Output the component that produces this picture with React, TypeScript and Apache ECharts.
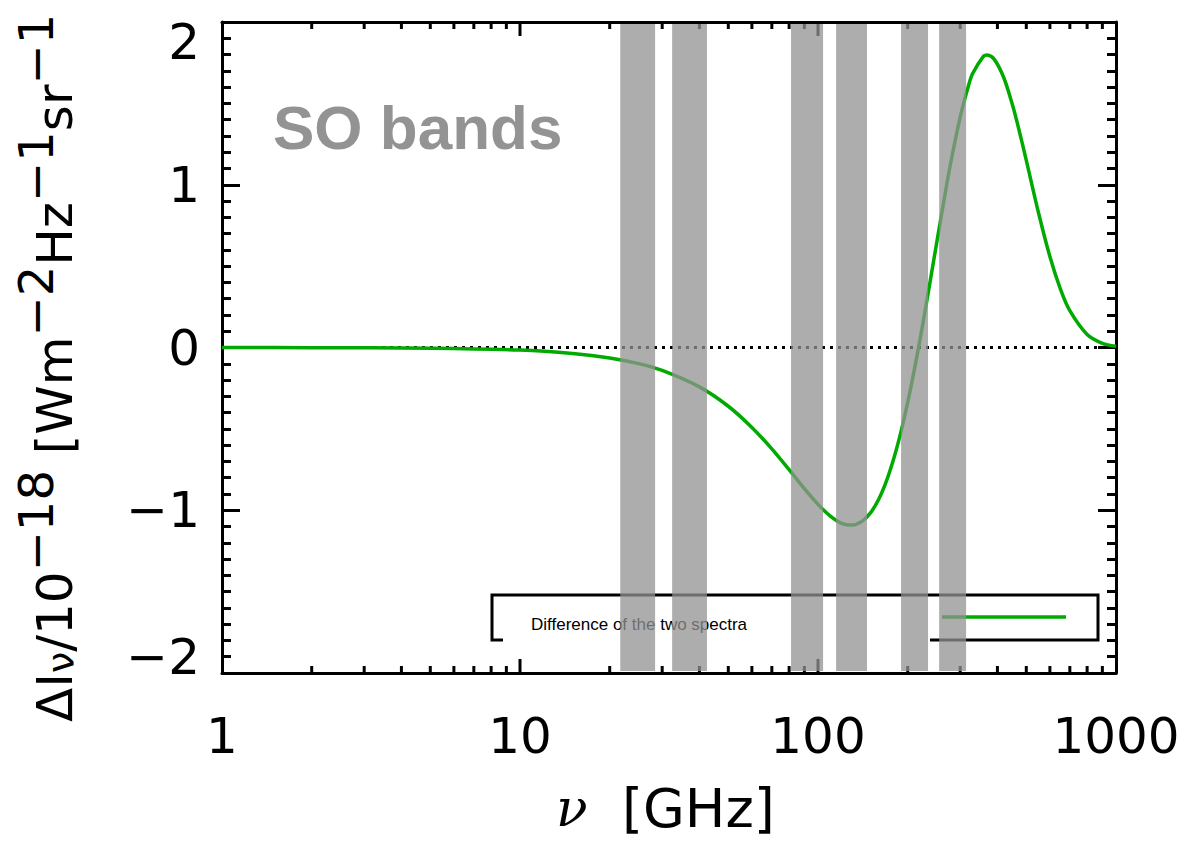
import React, { useEffect, useRef } from "react";
import * as echarts from "echarts";

// ---- data ----
const freqGHz = [1, 2, 5, 10, 15, 20, 25, 30, 40, 50, 60, 70, 80, 90, 100, 110, 120, 130, 140, 150, 160, 170, 180, 190, 200, 210, 220, 230, 240, 250, 270, 280, 300, 320, 330, 360, 370, 390, 420, 450, 470, 500, 550, 600, 650, 700, 800, 900, 1000];
const deltaI = [0.0, -0.001, -0.004, -0.016, -0.037, -0.064, -0.099, -0.141, -0.242, -0.361, -0.491, -0.623, -0.751, -0.867, -0.964, -1.036, -1.08, -1.091, -1.07, -1.016, -0.931, -0.816, -0.676, -0.515, -0.337, -0.147, 0.05, 0.25, 0.448, 0.64, 0.995, 1.152, 1.416, 1.61, 1.682, 1.792, 1.798, 1.772, 1.659, 1.487, 1.355, 1.15, 0.825, 0.559, 0.362, 0.226, 0.08, 0.026, 0.008];

const bandLow = [21.7, 32.4, 81.2, 115, 190, 255];
const bandHigh = [28.4, 42.4, 104, 146, 234, 314];

const xTickLabels = [1, 10, 100, 1000];
const logMajorTicks = [10, 100];
const logMinorTicks = [2, 3, 4, 5, 6, 7, 8, 9, 20, 30, 40, 50, 60, 70, 80, 90, 200, 300, 400, 500, 600, 700, 800, 900];
const yMin = -2;
const yMax = 2;

const legendLabel = "Difference of the two spectra";
const annotation = "SO bands";

const FONT = "DejaVu Sans";

export default function App() {
  const ref = useRef<HTMLDivElement>(null);

  useEffect(() => {
    if (!ref.current) return;
    const chart = echarts.init(ref.current, undefined, { renderer: "svg" });

    const axisLine = { show: true, onZero: false, lineStyle: { color: "#000", width: 3 } };

    const tickData = [
      ...logMinorTicks.map((v) => [v, 7]),
      ...logMajorTicks.map((v) => [v, 14]),
    ];

    const option: any = {
      animation: false,
      backgroundColor: "#fff",
      grid: { left: 222, right: 84, top: 22, bottom: 169, containLabel: false, outerBoundsMode: "none" },
      xAxis: [
        {
          type: "log",
          logBase: 10,
          min: 1,
          max: 1000,
          position: "bottom",
          axisLine,
          axisTick: { show: false },
          splitLine: { show: false },
          axisLabel: {
            show: true,
            margin: 38,
            color: "#000",
            fontFamily: FONT,
            fontSize: 50,
            formatter: (v: number) => {
              const r = Math.round(v);
              return xTickLabels.includes(r) ? String(r) : "";
            },
          },
        },
        {
          type: "log",
          logBase: 10,
          min: 1,
          max: 1000,
          position: "top",
          axisLine,
          axisTick: { show: false },
          splitLine: { show: false },
          axisLabel: { show: false },
        },
      ],
      yAxis: [
        {
          type: "value",
          min: yMin,
          max: yMax,
          interval: 1,
          position: "left",
          axisLine,
          axisTick: { show: true, inside: true, length: 18, lineStyle: { color: "#000", width: 3 } },
          minorTick: { show: true, splitNumber: 10, length: 9, lineStyle: { color: "#000", width: 3 } },
          splitLine: { show: false },
          minorSplitLine: { show: false },
          axisLabel: {
            show: true,
            showMinLabel: true,
            showMaxLabel: true,
            margin: 22,
            color: "#000",
            fontFamily: FONT,
            fontSize: 50,
            formatter: (v: number) => {
              const s = v < 0 ? "\u2212" + Math.abs(v) : String(v);
              if (v === yMax) return "{t|" + s + "}";
              if (v === yMin) return "{b|" + s + "}";
              return s;
            },
            rich: {
              t: { fontFamily: FONT, fontSize: 50, color: "#000", padding: [40, 0, 0, 0] },
              b: { fontFamily: FONT, fontSize: 50, color: "#000", padding: [0, 0, 32, 0] },
            },
          },
        },
        {
          type: "value",
          min: yMin,
          max: yMax,
          interval: 1,
          position: "right",
          axisLine,
          axisTick: { show: true, inside: true, length: 18, lineStyle: { color: "#000", width: 3 } },
          minorTick: { show: true, splitNumber: 10, length: 9, lineStyle: { color: "#000", width: 3 } },
          splitLine: { show: false },
          minorSplitLine: { show: false },
          axisLabel: { show: false },
        },
      ],
      series: [
        {
          type: "custom",
          name: "xTicks",
          xAxisIndex: 0,
          yAxisIndex: 0,
          z: 3,
          silent: true,
          clip: false,
          data: tickData,
          renderItem: (_p: any, api: any) => {
            const v = api.value(0);
            const len = api.value(1);
            const b = api.coord([v, yMin]);
            const t = api.coord([v, yMax]);
            return {
              type: "group",
              children: [
                { type: "line", shape: { x1: b[0], y1: b[1], x2: b[0], y2: b[1] - len }, style: { stroke: "#000", lineWidth: 3 } },
                { type: "line", shape: { x1: t[0], y1: t[1], x2: t[0], y2: t[1] + len }, style: { stroke: "#000", lineWidth: 3 } },
              ],
            };
          },
        },
        {
          type: "line",
          name: "zero",
          xAxisIndex: 0,
          yAxisIndex: 0,
          z: 2,
          symbol: "none",
          silent: true,
          data: [
            [freqGHz[0], 0],
            [freqGHz[freqGHz.length - 1], 0],
          ],
          lineStyle: { color: "#000", width: 3, type: [3, 5] },
        },
        {
          type: "line",
          name: legendLabel,
          xAxisIndex: 0,
          yAxisIndex: 0,
          z: 4,
          symbol: "none",
          smooth: 0.3,
          data: freqGHz.map((f, i) => [f, deltaI[i]]),
          lineStyle: { color: "#00aa00", width: 3.5 },
        },
        {
          type: "custom",
          name: "bands",
          xAxisIndex: 0,
          yAxisIndex: 0,
          z: 10,
          silent: true,
          data: bandLow.map((l, i) => [l, bandHigh[i]]),
          renderItem: (_p: any, api: any) => {
            const lo = api.value(0);
            const hi = api.value(1);
            const p1 = api.coord([lo, yMax]);
            const p2 = api.coord([hi, yMin]);
            return {
              type: "rect",
              shape: { x: p1[0], y: p1[1] + 2, width: p2[0] - p1[0], height: p2[1] - p1[1] - 4 },
              style: { fill: "rgba(145,145,145,0.75)" },
            };
          },
        },
      ],
      graphic: [
        {
          type: "text",
          z: 1,
          x: 273,
          y: 127,
          style: {
            text: annotation,
            fill: "#939393",
            font: "bold 62px 'Liberation Sans', Arial, sans-serif",
            align: "left",
            verticalAlign: "middle",
          },
        },
        {
          type: "polyline",
          z: 1,
          shape: {
            points: [
              [503, 640],
              [492, 640],
              [492, 595],
              [1098, 595],
              [1098, 640],
              [930, 640],
            ],
          },
          style: { stroke: "#000", lineWidth: 3, fill: null },
        },
        {
          type: "text",
          z: 1,
          x: 531,
          y: 624,
          style: {
            text: legendLabel,
            fill: "#000",
            font: "17px 'Liberation Sans', Arial, sans-serif",
            align: "left",
            verticalAlign: "middle",
          },
        },
        {
          type: "line",
          z: 1,
          shape: { x1: 942, y1: 617, x2: 1066, y2: 617 },
          style: { stroke: "#00aa00", lineWidth: 3.5 },
        },
        {
          type: "text",
          z: 1,
          x: 556,
          y: 808,
          style: {
            text: "{nu|\u03bd}{m|  [GHz]}",
            align: "left",
            verticalAlign: "middle",
            rich: {
              nu: { fontFamily: "DejaVu Serif", fontStyle: "italic", fontSize: 52, fill: "#000", color: "#000" },
              m: { fontFamily: FONT, fontSize: 54, fill: "#000", color: "#000" },
            },
          },
        },
        {
          type: "text",
          z: 1,
          x: 46,
          y: 722,
          rotation: Math.PI / 2,
          style: {
            text: "{m|\u0394I}{sub|\u03bd}{m|/10}{sup|\u221218}{m| [Wm}{sup|\u22122}{m|Hz}{sup|\u22121}{m|sr}{sup|\u22121}",
            align: "left",
            verticalAlign: "middle",
            rich: {
              m: { fontFamily: FONT, fontSize: 50, lineHeight: 68, verticalAlign: "bottom", fill: "#000", color: "#000" },
              sup: { fontFamily: FONT, fontSize: 48, lineHeight: 48, verticalAlign: "top", fill: "#000", color: "#000" },
              sub: { fontFamily: FONT, fontSize: 38, lineHeight: 40, verticalAlign: "bottom", fill: "#000", color: "#000" },
            },
          },
        },
      ],
    };

    chart.setOption(option);
    return () => chart.dispose();
  }, []);

  return <div ref={ref} style={{ position: "fixed", left: 0, top: 0, width: 1200, height: 842 }} />;
}
